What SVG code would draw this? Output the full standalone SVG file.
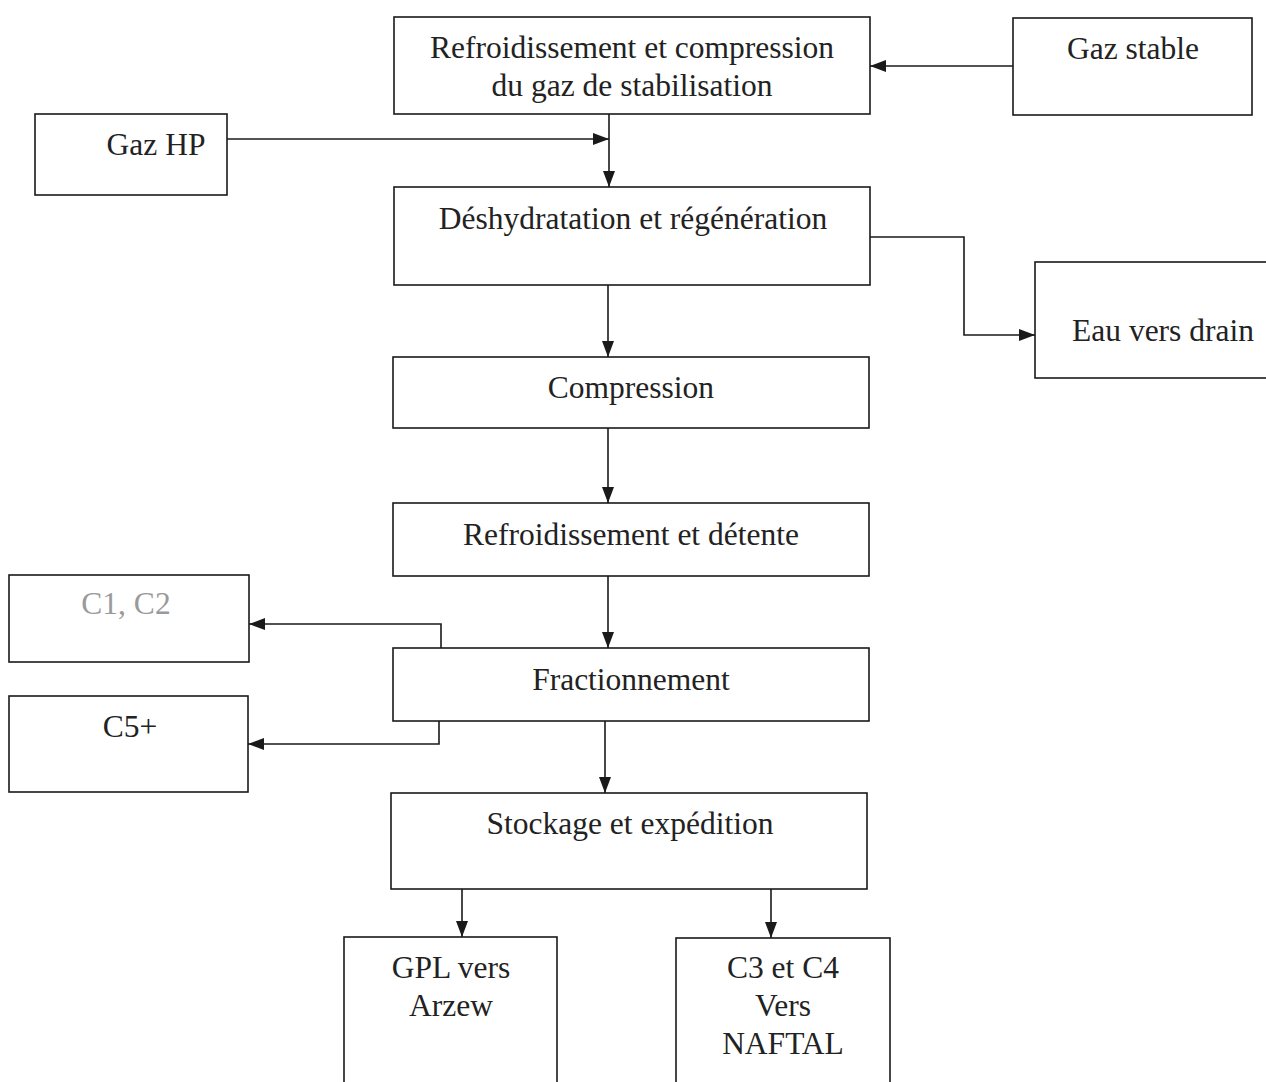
<svg xmlns="http://www.w3.org/2000/svg" width="1266" height="1082" viewBox="0 0 1266 1082">
<style>
.box{fill:#fff;stroke:#1a1a1a;stroke-width:1.6}
.t{font-family:"Liberation Serif","Times New Roman",serif;font-size:31.5px;fill:#222;text-anchor:middle}
.g{fill:#9a9a9a}
.c{fill:none;stroke:#1a1a1a;stroke-width:1.6}
</style>
<defs>
<marker id="ah" viewBox="0 0 16 12" refX="16" refY="6" markerWidth="16" markerHeight="12" markerUnits="userSpaceOnUse" orient="auto">
<path d="M0,0 L16,6 L0,12 Z" fill="#1a1a1a"/>
</marker>
</defs>
<rect width="1266" height="1082" fill="#fff"/>
<g id="n1"><rect class="box" x="394" y="17" width="476" height="97"/><text class="t" x="632" y="58">Refroidissement et compression</text><text class="t" x="632" y="96">du gaz de stabilisation</text></g>
<g id="n2"><rect class="box" x="1013" y="18" width="239" height="97"/><text class="t" x="1133" y="59">Gaz stable</text></g>
<g id="n3"><rect class="box" x="35" y="114" width="192" height="81"/><text class="t" x="156" y="155">Gaz HP</text></g>
<g id="n4"><rect class="box" x="394" y="187" width="476" height="98"/><text class="t" x="633" y="229">Déshydratation et régénération</text></g>
<g id="n5"><rect class="box" x="1035" y="262" width="240" height="116"/><text class="t" x="1163" y="341">Eau vers drain</text></g>
<g id="n6"><rect class="box" x="393" y="357" width="476" height="71"/><text class="t" x="631" y="398">Compression</text></g>
<g id="n7"><rect class="box" x="393" y="503" width="476" height="73"/><text class="t" x="631" y="545">Refroidissement et détente</text></g>
<g id="n8"><rect class="box" x="9" y="575" width="240" height="87"/><text class="t g" x="126" y="614">C1, C2</text></g>
<g id="n9"><rect class="box" x="393" y="648" width="476" height="73"/><text class="t" x="631" y="690">Fractionnement</text></g>
<g id="n10"><rect class="box" x="9" y="696" width="239" height="96"/><text class="t" x="130" y="737">C5+</text></g>
<g id="n11"><rect class="box" x="391" y="793" width="476" height="96"/><text class="t" x="630" y="834">Stockage et expédition</text></g>
<g id="n12"><rect class="box" x="344" y="937" width="213" height="160"/><text class="t" x="451" y="978">GPL vers</text><text class="t" x="451" y="1016">Arzew</text></g>
<g id="n13"><rect class="box" x="676" y="938" width="214" height="160"/><text class="t" x="783" y="978">C3 et C4</text><text class="t" x="783" y="1016">Vers</text><text class="t" x="783" y="1054">NAFTAL</text></g>
<g id="connectors">
<path class="c" d="M1013,66 L870,66" marker-end="url(#ah)"/>
<path class="c" d="M227,139 L609,139" marker-end="url(#ah)"/>
<path class="c" d="M609,114 L609,187" marker-end="url(#ah)"/>
<path class="c" d="M870,237 L964,237 L964,335 L1035,335" marker-end="url(#ah)"/>
<path class="c" d="M608,285 L608,357" marker-end="url(#ah)"/>
<path class="c" d="M608,428 L608,503" marker-end="url(#ah)"/>
<path class="c" d="M608,576 L608,648" marker-end="url(#ah)"/>
<path class="c" d="M441,648 L441,624 L249,624" marker-end="url(#ah)"/>
<path class="c" d="M439,721 L439,744 L248,744" marker-end="url(#ah)"/>
<path class="c" d="M605,721 L605,793" marker-end="url(#ah)"/>
<path class="c" d="M462,889 L462,937" marker-end="url(#ah)"/>
<path class="c" d="M771,889 L771,938" marker-end="url(#ah)"/>
</g>
</svg>
